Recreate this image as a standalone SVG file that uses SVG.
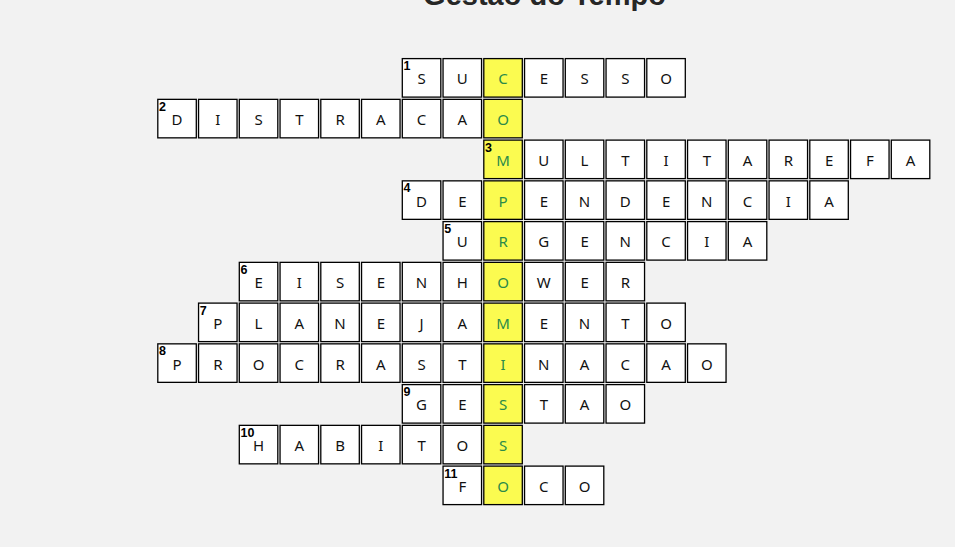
<svg xmlns="http://www.w3.org/2000/svg" width="955" height="547" viewBox="0 0 955 547">
<style>
.bg{fill:#f2f2f2}
.c{fill:#ffffff;stroke:#000;stroke-width:1.3}
.h{fill:#fbfb50;stroke:#000;stroke-width:1.3}
.t{font-family:"Noto Sans","Open Sans","DejaVu Sans",sans-serif;font-size:15px;fill:#111;text-anchor:middle}
.g{fill:#2a8a4a}
.n{font-family:"Liberation Sans","DejaVu Sans",sans-serif;font-size:12.5px;font-weight:bold;fill:#000}
.title{font-family:"Liberation Sans","DejaVu Sans",sans-serif;font-size:29px;font-weight:bold;fill:#262626;text-anchor:middle}
</style>
<rect class="bg" x="0" y="0" width="955" height="547"/>
<text class="title" x="544.5" y="4.5">Gestão do Tempo</text>

<g id="word1" transform="translate(402.3,58.6)">
<rect class="c" x="0" y="0" width="38.5" height="38.5"/><rect class="c" x="40.75" y="0" width="38.5" height="38.5"/><rect class="h" x="81.5" y="0" width="38.5" height="38.5"/><rect class="c" x="122.25" y="0" width="38.5" height="38.5"/><rect class="c" x="163" y="0" width="38.5" height="38.5"/><rect class="c" x="203.75" y="0" width="38.5" height="38.5"/><rect class="c" x="244.5" y="0" width="38.5" height="38.5"/>
<text class="n" x="1.3" y="11.5">1</text>
<text class="t" y="25.7"><tspan x="19.25">S</tspan><tspan x="60">U</tspan><tspan x="100.75" class="g">C</tspan><tspan x="141.5">E</tspan><tspan x="182.25">S</tspan><tspan x="223">S</tspan><tspan x="263.75">O</tspan></text>
</g>

<g id="word2" transform="translate(157.8,99.35)">
<rect class="c" x="0" y="0" width="38.5" height="38.5"/><rect class="c" x="40.75" y="0" width="38.5" height="38.5"/><rect class="c" x="81.5" y="0" width="38.5" height="38.5"/><rect class="c" x="122.25" y="0" width="38.5" height="38.5"/><rect class="c" x="163" y="0" width="38.5" height="38.5"/><rect class="c" x="203.75" y="0" width="38.5" height="38.5"/><rect class="c" x="244.5" y="0" width="38.5" height="38.5"/><rect class="c" x="285.25" y="0" width="38.5" height="38.5"/><rect class="h" x="326" y="0" width="38.5" height="38.5"/>
<text class="n" x="1.3" y="11.5">2</text>
<text class="t" y="25.7"><tspan x="19.25">D</tspan><tspan x="60">I</tspan><tspan x="100.75">S</tspan><tspan x="141.5">T</tspan><tspan x="182.25">R</tspan><tspan x="223">A</tspan><tspan x="263.75">C</tspan><tspan x="304.5">A</tspan><tspan x="345.25" class="g">O</tspan></text>
</g>

<g id="word3" transform="translate(483.8,140.1)">
<rect class="h" x="0" y="0" width="38.5" height="38.5"/><rect class="c" x="40.75" y="0" width="38.5" height="38.5"/><rect class="c" x="81.5" y="0" width="38.5" height="38.5"/><rect class="c" x="122.25" y="0" width="38.5" height="38.5"/><rect class="c" x="163" y="0" width="38.5" height="38.5"/><rect class="c" x="203.75" y="0" width="38.5" height="38.5"/><rect class="c" x="244.5" y="0" width="38.5" height="38.5"/><rect class="c" x="285.25" y="0" width="38.5" height="38.5"/><rect class="c" x="326" y="0" width="38.5" height="38.5"/><rect class="c" x="366.75" y="0" width="38.5" height="38.5"/><rect class="c" x="407.5" y="0" width="38.5" height="38.5"/>
<text class="n" x="1.3" y="11.5">3</text>
<text class="t" y="25.7"><tspan x="19.25" class="g">M</tspan><tspan x="60">U</tspan><tspan x="100.75">L</tspan><tspan x="141.5">T</tspan><tspan x="182.25">I</tspan><tspan x="223">T</tspan><tspan x="263.75">A</tspan><tspan x="304.5">R</tspan><tspan x="345.25">E</tspan><tspan x="386">F</tspan><tspan x="426.75">A</tspan></text>
</g>

<g id="word4" transform="translate(402.3,180.85)">
<rect class="c" x="0" y="0" width="38.5" height="38.5"/><rect class="c" x="40.75" y="0" width="38.5" height="38.5"/><rect class="h" x="81.5" y="0" width="38.5" height="38.5"/><rect class="c" x="122.25" y="0" width="38.5" height="38.5"/><rect class="c" x="163" y="0" width="38.5" height="38.5"/><rect class="c" x="203.75" y="0" width="38.5" height="38.5"/><rect class="c" x="244.5" y="0" width="38.5" height="38.5"/><rect class="c" x="285.25" y="0" width="38.5" height="38.5"/><rect class="c" x="326" y="0" width="38.5" height="38.5"/><rect class="c" x="366.75" y="0" width="38.5" height="38.5"/><rect class="c" x="407.5" y="0" width="38.5" height="38.5"/>
<text class="n" x="1.3" y="11.5">4</text>
<text class="t" y="25.7"><tspan x="19.25">D</tspan><tspan x="60">E</tspan><tspan x="100.75" class="g">P</tspan><tspan x="141.5">E</tspan><tspan x="182.25">N</tspan><tspan x="223">D</tspan><tspan x="263.75">E</tspan><tspan x="304.5">N</tspan><tspan x="345.25">C</tspan><tspan x="386">I</tspan><tspan x="426.75">A</tspan></text>
</g>

<g id="word5" transform="translate(443.05,221.6)">
<rect class="c" x="0" y="0" width="38.5" height="38.5"/><rect class="h" x="40.75" y="0" width="38.5" height="38.5"/><rect class="c" x="81.5" y="0" width="38.5" height="38.5"/><rect class="c" x="122.25" y="0" width="38.5" height="38.5"/><rect class="c" x="163" y="0" width="38.5" height="38.5"/><rect class="c" x="203.75" y="0" width="38.5" height="38.5"/><rect class="c" x="244.5" y="0" width="38.5" height="38.5"/><rect class="c" x="285.25" y="0" width="38.5" height="38.5"/>
<text class="n" x="1.3" y="11.5">5</text>
<text class="t" y="25.7"><tspan x="19.25">U</tspan><tspan x="60" class="g">R</tspan><tspan x="100.75">G</tspan><tspan x="141.5">E</tspan><tspan x="182.25">N</tspan><tspan x="223">C</tspan><tspan x="263.75">I</tspan><tspan x="304.5">A</tspan></text>
</g>

<g id="word6" transform="translate(239.3,262.35)">
<rect class="c" x="0" y="0" width="38.5" height="38.5"/><rect class="c" x="40.75" y="0" width="38.5" height="38.5"/><rect class="c" x="81.5" y="0" width="38.5" height="38.5"/><rect class="c" x="122.25" y="0" width="38.5" height="38.5"/><rect class="c" x="163" y="0" width="38.5" height="38.5"/><rect class="c" x="203.75" y="0" width="38.5" height="38.5"/><rect class="h" x="244.5" y="0" width="38.5" height="38.5"/><rect class="c" x="285.25" y="0" width="38.5" height="38.5"/><rect class="c" x="326" y="0" width="38.5" height="38.5"/><rect class="c" x="366.75" y="0" width="38.5" height="38.5"/>
<text class="n" x="1.3" y="11.5">6</text>
<text class="t" y="25.7"><tspan x="19.25">E</tspan><tspan x="60">I</tspan><tspan x="100.75">S</tspan><tspan x="141.5">E</tspan><tspan x="182.25">N</tspan><tspan x="223">H</tspan><tspan x="263.75" class="g">O</tspan><tspan x="304.5">W</tspan><tspan x="345.25">E</tspan><tspan x="386">R</tspan></text>
</g>

<g id="word7" transform="translate(198.55,303.1)">
<rect class="c" x="0" y="0" width="38.5" height="38.5"/><rect class="c" x="40.75" y="0" width="38.5" height="38.5"/><rect class="c" x="81.5" y="0" width="38.5" height="38.5"/><rect class="c" x="122.25" y="0" width="38.5" height="38.5"/><rect class="c" x="163" y="0" width="38.5" height="38.5"/><rect class="c" x="203.75" y="0" width="38.5" height="38.5"/><rect class="c" x="244.5" y="0" width="38.5" height="38.5"/><rect class="h" x="285.25" y="0" width="38.5" height="38.5"/><rect class="c" x="326" y="0" width="38.5" height="38.5"/><rect class="c" x="366.75" y="0" width="38.5" height="38.5"/><rect class="c" x="407.5" y="0" width="38.5" height="38.5"/><rect class="c" x="448.25" y="0" width="38.5" height="38.5"/>
<text class="n" x="1.3" y="11.5">7</text>
<text class="t" y="25.7"><tspan x="19.25">P</tspan><tspan x="60">L</tspan><tspan x="100.75">A</tspan><tspan x="141.5">N</tspan><tspan x="182.25">E</tspan><tspan x="223">J</tspan><tspan x="263.75">A</tspan><tspan x="304.5" class="g">M</tspan><tspan x="345.25">E</tspan><tspan x="386">N</tspan><tspan x="426.75">T</tspan><tspan x="467.5">O</tspan></text>
</g>

<g id="word8" transform="translate(157.8,343.85)">
<rect class="c" x="0" y="0" width="38.5" height="38.5"/><rect class="c" x="40.75" y="0" width="38.5" height="38.5"/><rect class="c" x="81.5" y="0" width="38.5" height="38.5"/><rect class="c" x="122.25" y="0" width="38.5" height="38.5"/><rect class="c" x="163" y="0" width="38.5" height="38.5"/><rect class="c" x="203.75" y="0" width="38.5" height="38.5"/><rect class="c" x="244.5" y="0" width="38.5" height="38.5"/><rect class="c" x="285.25" y="0" width="38.5" height="38.5"/><rect class="h" x="326" y="0" width="38.5" height="38.5"/><rect class="c" x="366.75" y="0" width="38.5" height="38.5"/><rect class="c" x="407.5" y="0" width="38.5" height="38.5"/><rect class="c" x="448.25" y="0" width="38.5" height="38.5"/><rect class="c" x="489" y="0" width="38.5" height="38.5"/><rect class="c" x="529.75" y="0" width="38.5" height="38.5"/>
<text class="n" x="1.3" y="11.5">8</text>
<text class="t" y="25.7"><tspan x="19.25">P</tspan><tspan x="60">R</tspan><tspan x="100.75">O</tspan><tspan x="141.5">C</tspan><tspan x="182.25">R</tspan><tspan x="223">A</tspan><tspan x="263.75">S</tspan><tspan x="304.5">T</tspan><tspan x="345.25" class="g">I</tspan><tspan x="386">N</tspan><tspan x="426.75">A</tspan><tspan x="467.5">C</tspan><tspan x="508.25">A</tspan><tspan x="549">O</tspan></text>
</g>

<g id="word9" transform="translate(402.3,384.6)">
<rect class="c" x="0" y="0" width="38.5" height="38.5"/><rect class="c" x="40.75" y="0" width="38.5" height="38.5"/><rect class="h" x="81.5" y="0" width="38.5" height="38.5"/><rect class="c" x="122.25" y="0" width="38.5" height="38.5"/><rect class="c" x="163" y="0" width="38.5" height="38.5"/><rect class="c" x="203.75" y="0" width="38.5" height="38.5"/>
<text class="n" x="1.3" y="11.5">9</text>
<text class="t" y="25.7"><tspan x="19.25">G</tspan><tspan x="60">E</tspan><tspan x="100.75" class="g">S</tspan><tspan x="141.5">T</tspan><tspan x="182.25">A</tspan><tspan x="223">O</tspan></text>
</g>

<g id="word10" transform="translate(239.3,425.35)">
<rect class="c" x="0" y="0" width="38.5" height="38.5"/><rect class="c" x="40.75" y="0" width="38.5" height="38.5"/><rect class="c" x="81.5" y="0" width="38.5" height="38.5"/><rect class="c" x="122.25" y="0" width="38.5" height="38.5"/><rect class="c" x="163" y="0" width="38.5" height="38.5"/><rect class="c" x="203.75" y="0" width="38.5" height="38.5"/><rect class="h" x="244.5" y="0" width="38.5" height="38.5"/>
<text class="n" x="1.3" y="11.5">10</text>
<text class="t" y="25.7"><tspan x="19.25">H</tspan><tspan x="60">A</tspan><tspan x="100.75">B</tspan><tspan x="141.5">I</tspan><tspan x="182.25">T</tspan><tspan x="223">O</tspan><tspan x="263.75" class="g">S</tspan></text>
</g>

<g id="word11" transform="translate(443.05,466.1)">
<rect class="c" x="0" y="0" width="38.5" height="38.5"/><rect class="h" x="40.75" y="0" width="38.5" height="38.5"/><rect class="c" x="81.5" y="0" width="38.5" height="38.5"/><rect class="c" x="122.25" y="0" width="38.5" height="38.5"/>
<text class="n" x="1.3" y="11.5">11</text>
<text class="t" y="25.7"><tspan x="19.25">F</tspan><tspan x="60" class="g">O</tspan><tspan x="100.75">C</tspan><tspan x="141.5">O</tspan></text>
</g>

<g id="connectors"></g>
</svg>
